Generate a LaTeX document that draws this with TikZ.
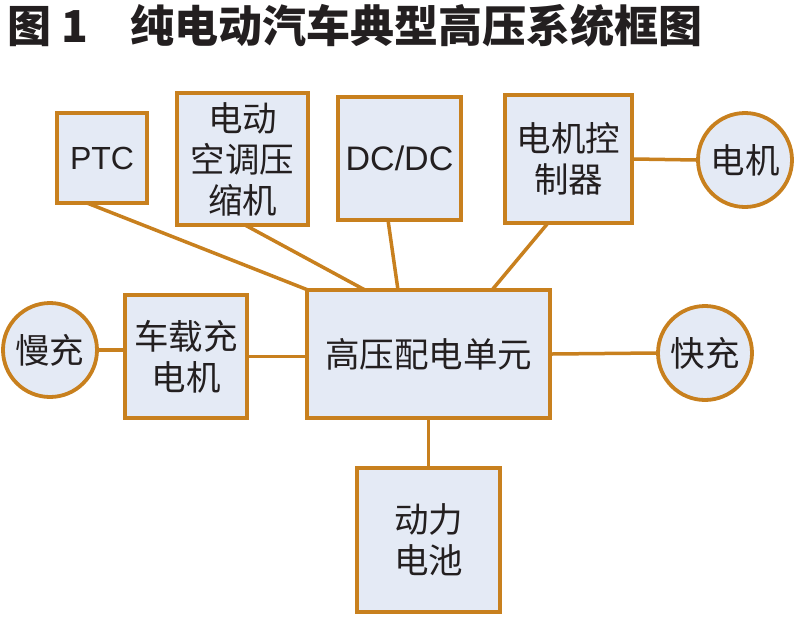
\documentclass[tikz,border=0pt]{standalone}
\usepackage{fontspec}
\usetikzlibrary{calc}
\newfontfamily\cjk{Noto Sans CJK SC}
\newfontfamily\latinf{Liberation Sans}
\definecolor{edge}{RGB}{200,128,30}
\definecolor{boxfill}{RGB}{228,234,245}
\definecolor{ink}{RGB}{35,31,32}
\begin{document}
\begin{tikzpicture}[x=1pt,y=-1pt,
  blk/.style={draw=edge, line width=3.8pt, fill=boxfill, rectangle, inner sep=0pt, text=ink, align=center, font=\cjk\fontsize{34.5}{41}\selectfont},
  rnd/.style={draw=edge, line width=3.8pt, fill=boxfill, circle, inner sep=0pt, minimum size=94pt, text=ink, font=\cjk\fontsize{34.5}{41}\selectfont},
  link/.style={draw=edge, line width=3.5pt},
  ttl/.style={text=ink, inner sep=0pt, font=\cjk\bfseries\fontsize{44}{46}\selectfont}]
\useasboundingbox (0,0) rectangle (800,624);
% title
\node[ttl, anchor=base west] (t1) at (7,42) {图 1};
\node[ttl, anchor=base west] (t2) at (130,42) {纯电动汽车典型高压系统框图};
% connectors first (behind boxes)
\coordinate (ptcS) at (87,203);
\coordinate (compS) at (245,225);
\coordinate (dcS) at (388,220);
\coordinate (mcS) at (548,223);
\coordinate (pduA) at (308,290);
\coordinate (pduB) at (365,290);
\coordinate (pduC) at (398,290);
\coordinate (pduD) at (492,290);
\draw[link] (ptcS) -- (pduA);
\draw[link] (compS) -- (pduB);
\draw[link] (dcS) -- (pduC);
\draw[link] (mcS) -- (pduD);
% boxes
\node[blk, minimum width=90pt, minimum height=90pt, font=\latinf\fontsize{32}{38}\selectfont] (ptc) at (102,158) {PTC};
\node[blk, minimum width=131pt, minimum height=132pt] (comp) at (242.5,159) {电动\\空调压\\缩机};
\node[blk, minimum width=123pt, minimum height=123pt, font=\latinf\fontsize{34}{38}\selectfont] (dcdc) at (399.5,158.5) {DC/DC};
\node[blk, minimum width=127pt, minimum height=128pt] (mc) at (568.5,159) {电机控\\制器};
\node[rnd] (motor) at (745,160) {电机};
\node[rnd] (slow) at (50,350) {慢充};
\node[blk, minimum width=122pt, minimum height=123pt] (obc) at (186,356.5) {车载充\\电机};
\node[blk, minimum width=243pt, minimum height=128pt] (pdu) at (428.5,354) {高压配电单元};
\node[rnd] (fast) at (705,353) {快充};
\node[blk, minimum width=143pt, minimum height=144pt] (batt) at (428.5,540) {动力\\电池};
% remaining connectors
\draw[link] (mc.east) -- (motor.west);
\draw[link] (slow.east) -- (slow.east -| obc.west);
\draw[link] (obc.east) -- (obc.east -| pdu.west);
\draw[link] (pdu.east) -- (fast.west);
\draw[link] (pdu.south) -- (batt.north);
\end{tikzpicture}
\end{document}
